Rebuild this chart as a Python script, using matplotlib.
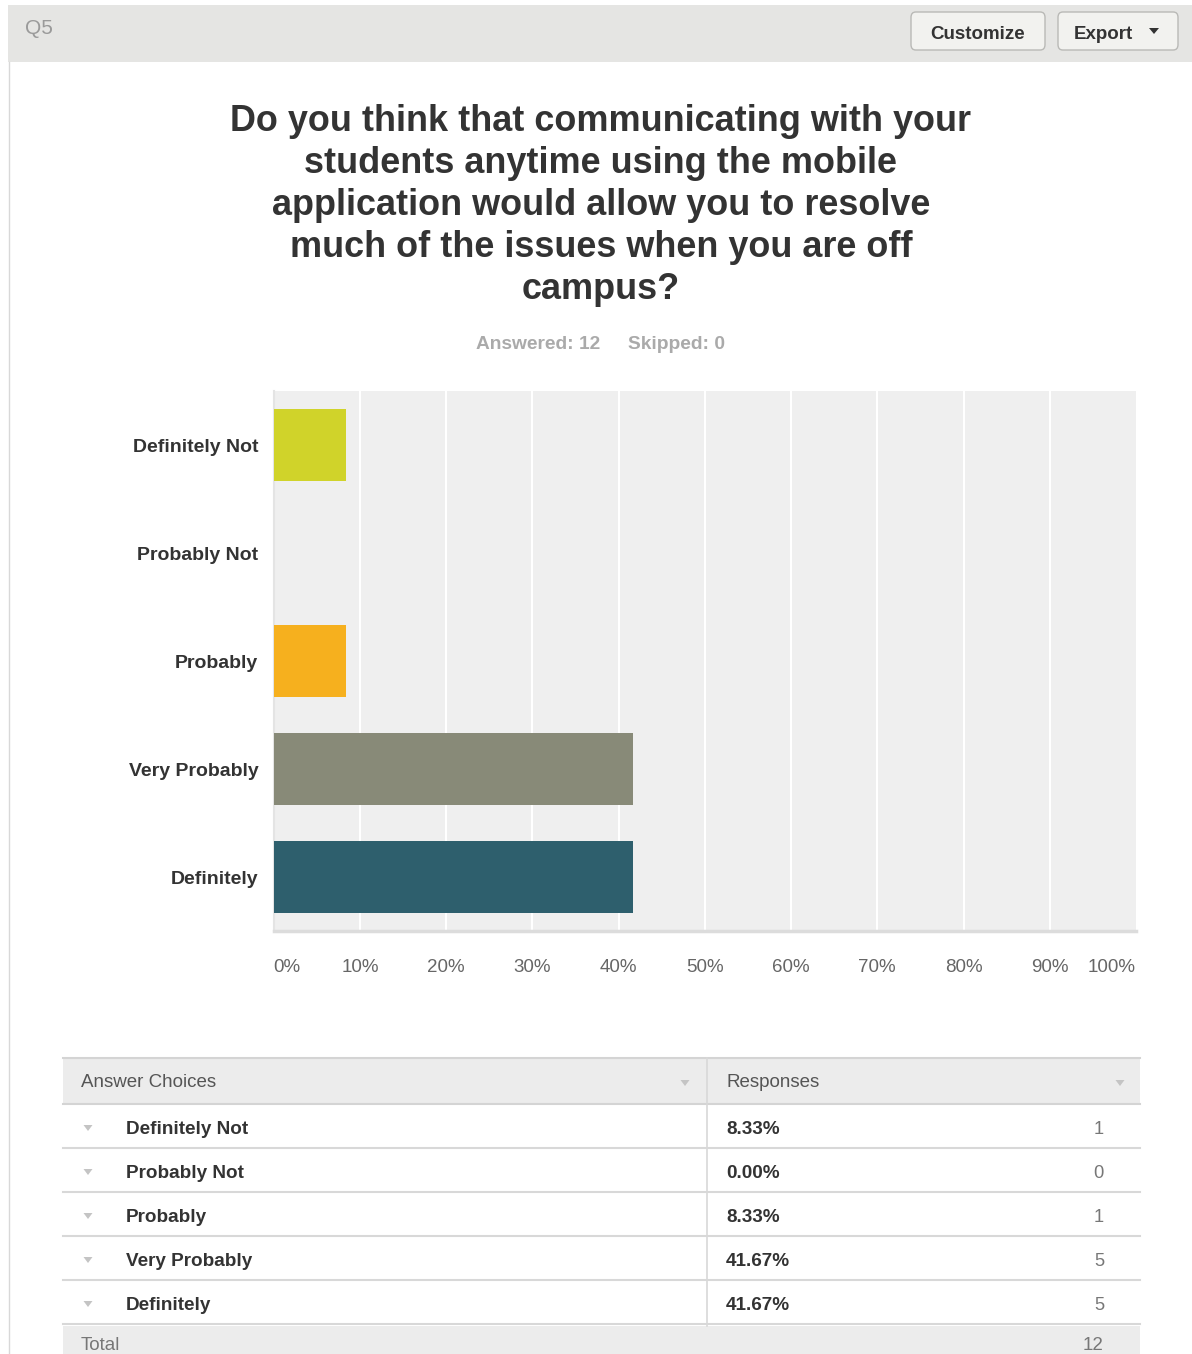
import matplotlib.pyplot as plt
from matplotlib.patches import Rectangle, FancyBboxPatch, Polygon
from matplotlib.lines import Line2D

plt.rcParams['font.family'] = ['Liberation Sans', 'DejaVu Sans']

# ---- survey data ----
question = "Q5"
title_lines = ["Do you think that communicating with your",
               "students anytime using the mobile",
               "application would allow you to resolve",
               "much of the issues when you are off",
               "campus?"]
answered = 12
skipped = 0
categories = ["Definitely Not", "Probably Not", "Probably", "Very Probably", "Definitely"]
percents = [8.33, 0.00, 8.33, 41.67, 41.67]
counts = [1, 0, 1, 5, 5]
bar_colors = ["#d0d32a", "#e8e8e8", "#f6b01e", "#888a78", "#2e5f6d"]
xtick_values = [0, 10, 20, 30, 40, 50, 60, 70, 80, 90, 100]

W, H = 1192, 1354
fig = plt.figure(figsize=(W / 100, H / 100), dpi=100)
fig.patch.set_facecolor("white")


def fx(x):
    return x / W


def fy(y):
    return 1 - y / H


def frect(x0, y0, x1, y1, **kw):
    r = Rectangle((fx(x0), fy(y1)), fx(x1) - fx(x0), fy(y0) - fy(y1),
                  transform=fig.transFigure, **kw)
    fig.add_artist(r)
    return r


def fline(x0, y0, x1, y1, **kw):
    fig.add_artist(Line2D([fx(x0), fx(x1)], [fy(y0), fy(y1)],
                          transform=fig.transFigure, **kw))


def ftri(cx, cy, w, h, color):
    pts = [(fx(cx - w / 2), fy(cy - h / 2)), (fx(cx + w / 2), fy(cy - h / 2)),
           (fx(cx), fy(cy + h / 2))]
    fig.add_artist(Polygon(pts, closed=True, transform=fig.transFigure,
                           facecolor=color, edgecolor="none"))


# ---- header band ----
frect(8, 5, W, 62, facecolor="#e5e5e3", edgecolor="none")
fline(8.5, 62, 8.5, H, color="#d8d8d8", lw=1)
fig.text(fx(25), fy(34), question, fontsize=15, color="#9a9a9a",
         ha="left", va="baseline")

for (x0, x1, label) in [(911, 1045, "Customize"), (1058, 1178, "Export")]:
    fig.add_artist(FancyBboxPatch((fx(x0), fy(50)), fx(x1) - fx(x0), fy(12) - fy(50),
                                  boxstyle="round,pad=0,rounding_size=0.004",
                                  transform=fig.transFigure,
                                  facecolor="#f2f2ef", edgecolor="#b9b9b6", lw=1))
fig.text(fx(978), fy(39), "Customize", fontsize=13.5, fontweight="bold",
         color="#333333", ha="center", va="baseline")
fig.text(fx(1074), fy(39), "Export", fontsize=13.5, fontweight="bold",
         color="#333333", ha="left", va="baseline")
ftri(1154, 31, 10, 6, "#333333")

# ---- title ----
for i, line in enumerate(title_lines):
    fig.text(fx(601), fy(131 + 42 * i), line, fontsize=25.9, fontweight="bold",
             color="#333333", ha="center", va="baseline")

fig.text(fx(476), fy(349), f"Answered: {answered}", fontsize=13.8,
         fontweight="bold", color="#aaaaaa", ha="left", va="baseline")
fig.text(fx(628), fy(349), f"Skipped: {skipped}", fontsize=13.8,
         fontweight="bold", color="#aaaaaa", ha="left", va="baseline")

# ---- bar chart ----
ax_l, ax_r, ax_t, ax_b = 273.7, 1136, 391, 931
ax = fig.add_axes([fx(ax_l), fy(ax_b), fx(ax_r) - fx(ax_l), fy(ax_t) - fy(ax_b)])
ax.set_facecolor("#efefef")
ypos = list(range(len(categories)))
ax.barh(ypos, percents, height=0.66, color=bar_colors, zorder=3)
ax.set_xlim(0, 100)
ax.set_ylim(len(categories) - 0.5, -0.5)
for v in xtick_values[1:-1]:
    ax.axvline(v, color="white", lw=1.5, zorder=1)

ax.set_yticks(ypos)
ax.set_yticklabels(categories, fontsize=14, fontweight="bold", color="#333333")
ax.set_xticks(xtick_values)
ax.set_xticklabels([f"{v}%" for v in xtick_values], fontsize=13.5, color="#666666")
ax.tick_params(axis="y", length=0, pad=11)
ax.tick_params(axis="x", length=0, pad=20)
labels = ax.get_xticklabels()
labels[0].set_horizontalalignment("left")
labels[-1].set_horizontalalignment("right")

for s in ["top", "right"]:
    ax.spines[s].set_visible(False)
ax.spines["bottom"].set_color("#dcdcdc")
ax.spines["bottom"].set_linewidth(2.5)
ax.spines["left"].set_color("#e4e4e4")
ax.spines["left"].set_linewidth(1.5)

# ---- response table ----
t_l, t_r, t_div = 63, 1140, 707
head_t, head_b = 1058, 1104
row_h = 44
frect(t_l, head_t, t_r, head_b, facecolor="#ececec", edgecolor="none")
fline(t_l, head_t, t_r, head_t, color="#d4d4d4", lw=1.5)
fline(t_l, head_b, t_r, head_b, color="#d4d4d4", lw=1.5)
fig.text(fx(81), fy(1087), "Answer Choices", fontsize=13.5, color="#555555",
         ha="left", va="baseline")
fig.text(fx(726), fy(1087), "Responses", fontsize=13.5, color="#555555",
         ha="left", va="baseline")
ftri(685, 1083, 9, 6, "#c4c4c4")
ftri(1120, 1083, 9, 6, "#c4c4c4")

n = len(categories)
for i, (cat, pct, cnt) in enumerate(zip(categories, percents, counts)):
    yc = head_b + row_h * i + row_h / 2
    ftri(88, yc + 2, 9, 6, "#c4c4c4")
    fig.text(fx(126), fy(yc + 8), cat, fontsize=13.6, fontweight="bold",
             color="#333333", ha="left", va="baseline")
    fig.text(fx(726), fy(yc + 8), f"{pct:.2f}%", fontsize=13.6, fontweight="bold",
             color="#333333", ha="left", va="baseline")
    fig.text(fx(1104), fy(yc + 8), f"{cnt}", fontsize=13.2, color="#777777",
             ha="right", va="baseline")
    fline(t_l, head_b + row_h * (i + 1), t_r, head_b + row_h * (i + 1),
          color="#d8d8d8", lw=1.5)

total_t = head_b + row_h * n + 2
frect(t_l, total_t, t_r, H, facecolor="#ececec", edgecolor="none")
fline(t_div, head_t, t_div, total_t, color="#d8d8d8", lw=1.2)
fig.text(fx(81), fy(1350), "Total", fontsize=13.5, color="#777777",
         ha="left", va="baseline")
fig.text(fx(1104), fy(1350), f"{sum(counts)}", fontsize=13.5, color="#777777",
         ha="right", va="baseline")

fig.savefig("out.png", dpi=100)
